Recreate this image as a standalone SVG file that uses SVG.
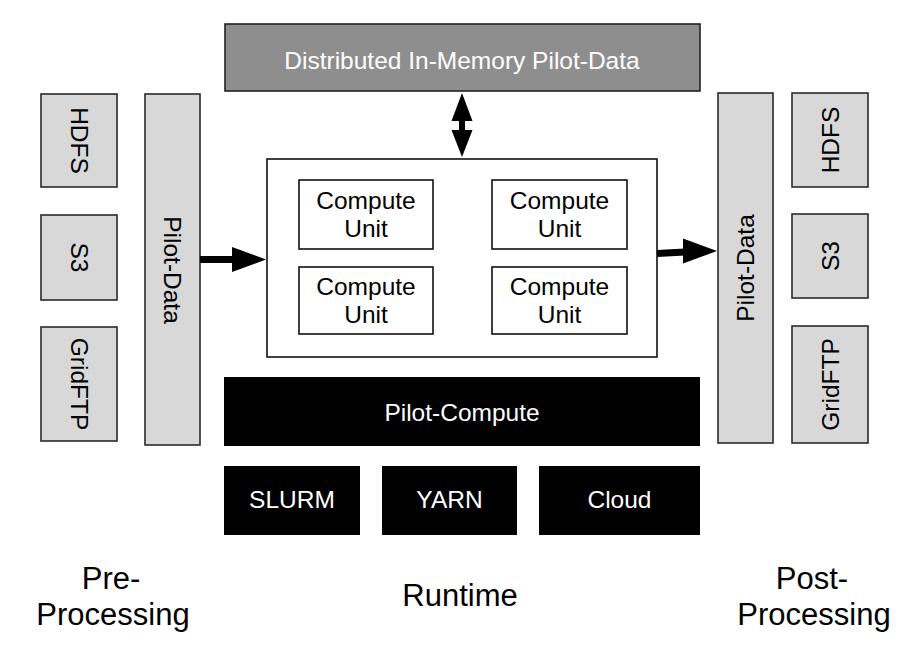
<svg xmlns="http://www.w3.org/2000/svg" width="924" height="662" viewBox="0 0 924 662">
<style>
text{font-family:"Liberation Sans",Arial,Helvetica,sans-serif;font-size:24.5px;text-anchor:middle}
.light{fill:#d8d8d8;stroke:#2a2a2a;stroke-width:1.6}
.dark{fill:#000}
.cu{fill:#fff;stroke:#111;stroke-width:1.6}
.wt{fill:#fff}
.bt{fill:#000}
.lbl{font-size:31px}
</style>
<rect width="924" height="662" fill="#fff"/>

<g id="top-data">
<rect x="225" y="24" width="475" height="67" fill="#8e8e8e" stroke="#222" stroke-width="1.6"/>
<text x="462" y="69" class="wt">Distributed In-Memory Pilot-Data</text>
</g>

<g id="left-hdfs"><rect class="light" x="41" y="94" width="76" height="93"/><text class="bt" transform="translate(79,140.5) rotate(90)" y="8.5">HDFS</text></g>
<g id="left-s3"><rect class="light" x="41" y="215" width="76" height="85"/><text class="bt" transform="translate(79,257.5) rotate(90)" y="8.5">S3</text></g>
<g id="left-gridftp"><rect class="light" x="41" y="327" width="76" height="114"/><text class="bt" transform="translate(79,384) rotate(90)" y="8.5">GridFTP</text></g>
<g id="left-pilot-data"><rect class="light" x="145" y="94" width="55" height="351"/><text class="bt" transform="translate(172.5,270) rotate(90)" y="8.5">Pilot-Data</text></g>

<g id="right-pilot-data"><rect class="light" x="718" y="93" width="55" height="350"/><text class="bt" transform="translate(745.5,268) rotate(-90)" y="8.5">Pilot-Data</text></g>
<g id="right-hdfs"><rect class="light" x="792" y="93" width="76" height="94"/><text class="bt" transform="translate(830,140) rotate(-90)" y="8.5">HDFS</text></g>
<g id="right-s3"><rect class="light" x="792" y="214" width="76" height="84"/><text class="bt" transform="translate(830,256) rotate(-90)" y="8.5">S3</text></g>
<g id="right-gridftp"><rect class="light" x="792" y="326" width="76" height="117"/><text class="bt" transform="translate(830,384.5) rotate(-90)" y="8.5">GridFTP</text></g>

<g id="runtime-frame"><rect x="267" y="159" width="390" height="198" fill="#fff" stroke="#111" stroke-width="1.6"/></g>
<g id="cu1"><rect class="cu" x="299" y="180" width="134" height="69"/><text class="bt" x="366" y="209">Compute</text><text class="bt" x="366" y="237">Unit</text></g>
<g id="cu2"><rect class="cu" x="492" y="180" width="135" height="69"/><text class="bt" x="559.5" y="209">Compute</text><text class="bt" x="559.5" y="237">Unit</text></g>
<g id="cu3"><rect class="cu" x="299" y="267" width="134" height="67"/><text class="bt" x="366" y="295">Compute</text><text class="bt" x="366" y="323">Unit</text></g>
<g id="cu4"><rect class="cu" x="492" y="267" width="135" height="67"/><text class="bt" x="559.5" y="295">Compute</text><text class="bt" x="559.5" y="323">Unit</text></g>

<g id="pilot-compute"><rect class="dark" x="224" y="377" width="476" height="69"/><text class="wt" x="462" y="421">Pilot-Compute</text></g>
<g id="slurm"><rect class="dark" x="224" y="466" width="136" height="69"/><text class="wt" x="292" y="508">SLURM</text></g>
<g id="yarn"><rect class="dark" x="382" y="466" width="135" height="69"/><text class="wt" x="449.5" y="508">YARN</text></g>
<g id="cloud"><rect class="dark" x="539" y="466" width="161" height="69"/><text class="wt" x="619.5" y="508">Cloud</text></g>

<g id="connectors">
<rect x="459" y="118" width="6" height="15" fill="#000"/>
<polygon points="462,93 472.5,121 451.5,121" fill="#000"/>
<polygon points="462,157 472.5,130 451.5,130" fill="#000"/>
<line x1="200" y1="259.5" x2="234" y2="259.5" stroke="#000" stroke-width="7"/>
<polygon points="266,259.5 232,247 232,272" fill="#000"/>
<line x1="657" y1="253.5" x2="685" y2="252" stroke="#000" stroke-width="7"/>
<polygon points="717,251 683,238.5 683,263.5" fill="#000"/>
</g>

<g id="labels">
<text class="bt lbl" x="111" y="589">Pre-</text>
<text class="bt lbl" x="113" y="625">Processing</text>
<text class="bt lbl" x="460" y="606">Runtime</text>
<text class="bt lbl" x="812" y="589">Post-</text>
<text class="bt lbl" x="814" y="625">Processing</text>
</g>
</svg>
